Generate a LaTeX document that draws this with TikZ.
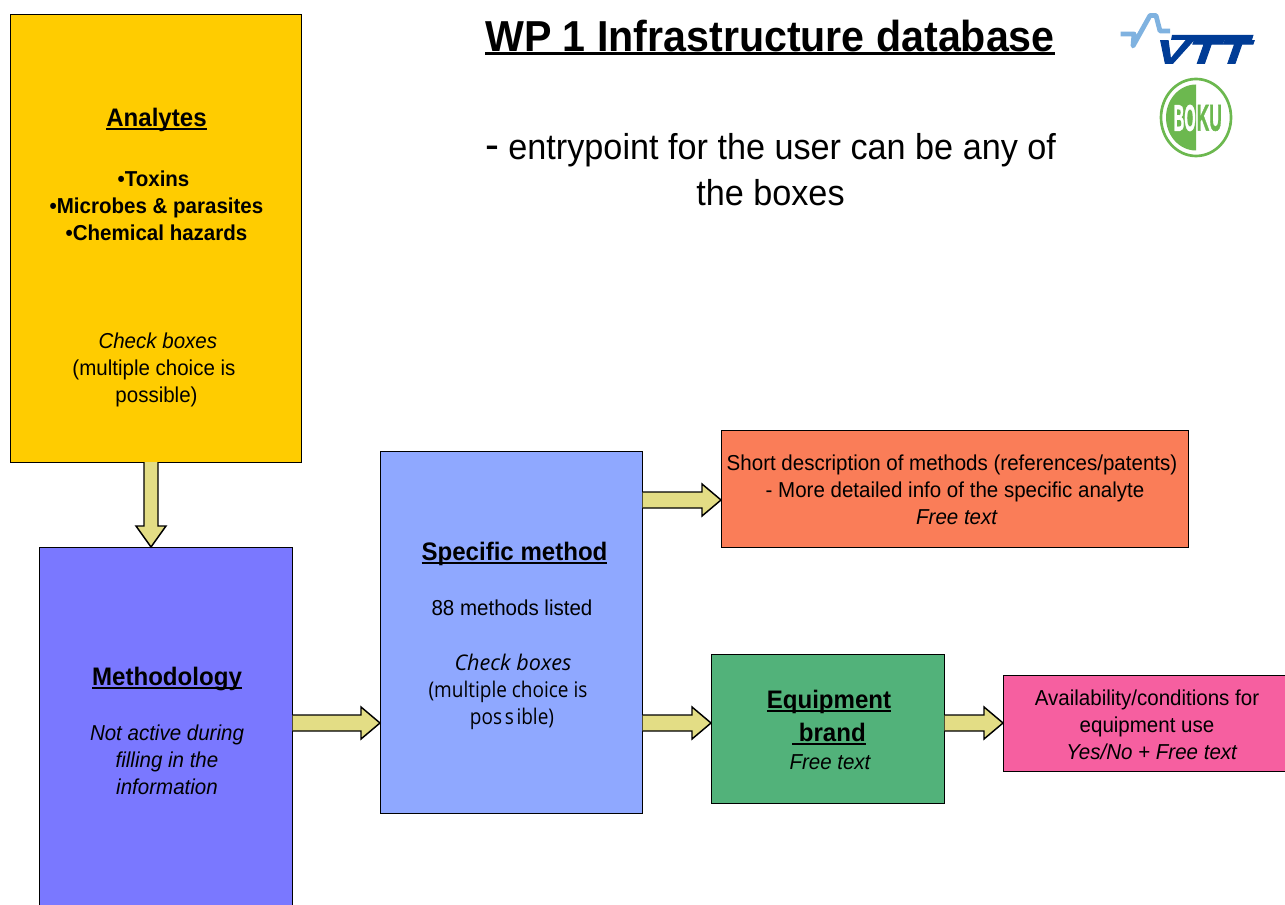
\documentclass[tikz,border=0pt]{standalone}
\usepackage{fontspec}
\setmainfont[FakeStretch=0.95]{Liberation Sans}
\newfontfamily\altfont[FakeStretch=0.88]{Open Sans}
\newfontfamily\altital[ItalicFont=*-Italic]{Open Sans}
\newfontfamily\vttfont[UprightFont=* Bold,FakeBold=3,FakeSlant=0.35,FakeStretch=1.5]{Liberation Sans}
\newfontfamily\bokufont[UprightFont=* Bold,FakeBold=1.5]{Liberation Sans}
\usetikzlibrary{calc}
\definecolor{cyellow}{HTML}{FFCC00}
\definecolor{cmethod}{HTML}{7A78FF}
\definecolor{cspecific}{HTML}{8FA8FF}
\definecolor{corange}{HTML}{FA7D58}
\definecolor{cgreen}{HTML}{52B27A}
\definecolor{cpink}{HTML}{F65FA0}
\definecolor{carrow}{HTML}{E3DD85}
\definecolor{vttblue}{HTML}{003C96}
\definecolor{vttlight}{HTML}{7FB2E0}
\definecolor{bokugreen}{HTML}{6CB84F}
\newcommand{\ulbox}[2][1.5pt]{\setbox0\hbox{#2}\rlap{\copy0}\rlap{\smash{\raisebox{-2.6pt}{\rule{\wd0}{#1}}}}\hbox to\wd0{\hfil}}
\newcommand{\headtxt}[1]{{\fontsize{19}{20.25}\selectfont\bfseries\ulbox{#1}}}
\newcommand{\boxnode}[6]{\node[flowbox,fill=#2,anchor=north west,minimum width={(#5-#3)*0.75},minimum height={(#6-#4)*0.75}] (#1) at (#3,#4) {};}
\newcommand{\harrow}[3]{\draw[blockarrow]
  (#1.east |- 0,#3-8) -- ($(#2.west |- 0,#3-8)+(-19,0)$) -- ($(#2.west |- 0,#3-16)+(-19,0)$)
  -- (#2.west |- 0,#3) -- ($(#2.west |- 0,#3+16)+(-19,0)$) -- ($(#2.west |- 0,#3+8)+(-19,0)$)
  -- (#1.east |- 0,#3+8);}
\tikzset{
  flowbox/.style={draw=black,line width=0.75pt,inner sep=0pt,outer sep=0pt},
  blockarrow/.style={draw=black,fill=carrow,line width=1.1pt,line join=miter},
  body/.style={align=center,inner sep=0pt,font=\fontsize{16.2}{20.25}\selectfont},
}
\begin{document}
\begin{tikzpicture}[x=0.75pt,y=-0.75pt]
\clip (0,0) rectangle (1285,905);
\fill[white] (0,0) rectangle (1285,905);
\boxnode{analytes}{cyellow}{10}{14.5}{301.5}{462}
\boxnode{methodology}{cmethod}{39}{547}{292.5}{920}
\boxnode{specific}{cspecific}{380}{451}{642.5}{813}
\boxnode{short}{corange}{721}{430.5}{1188}{547}
\boxnode{equipment}{cgreen}{711}{654}{944.5}{803}
\boxnode{avail}{cpink}{1003}{675}{1290}{771}
% connectors
\draw[blockarrow]
  (analytes.south -| 144,0) -- ($(methodology.north -| 144,0)+(0,-21)$) -- ($(methodology.north -| 136,0)+(0,-21)$)
  -- (methodology.north -| 151,0) -- ($(methodology.north -| 166,0)+(0,-21)$) -- ($(methodology.north -| 158,0)+(0,-21)$)
  -- (analytes.south -| 158,0);
\harrow{methodology}{specific}{723}
\harrow{specific}{short}{500}
\harrow{specific}{equipment}{723}
\harrow{equipment}{avail}{723}
% title
\node[inner sep=0pt,font=\fontsize{32.5}{38}\selectfont\bfseries] (title) at (770,36) {\ulbox[2pt]{WP 1 Infrastructure database}};
\node[inner sep=0pt,align=center,font=\fontsize{27}{34.5}\selectfont] (subtitle) at (770.5,170) {{\fontsize{33}{34.5}\selectfont -} entrypoint for the user can be any of\\the boxes};
% labels
\node[body] (analyteslabel) at (156.5,257.5) {\headtxt{Analytes}\\[24.75pt]
  \hspace*{-4.5pt}\textbf{•Toxins}\\ \textbf{•Microbes \& parasites}\\ \textbf{•Chemical hazards}\\[60.75pt]
  \hspace*{2pt}\textit{Check boxes}\\\hspace*{-3.75pt}(multiple choice is\\possible)};
\node[body] (methodlabel) at (167,731) {\headtxt{Methodology}\\[21.5pt]
  \textit{Not active during}\\\textit{filling in the}\\\textit{information}};
\node[body] (specificlabel) at (513,636) {\hspace*{2.25pt}\headtxt{Specific method}\\[21.5pt]
  \hspace*{-1.5pt}88 methods listed\\[21pt]
  {\altital\textit{Check boxes}}\\\hspace*{-7.5pt}{\altfont (multiple choice is}\\\hspace*{-1.5pt}{\altfont pos\kern2pt s\kern2pt ible)}};
\node[body] (shortlabel) at (952,489.5) {Short description of methods (references/patents)\\\hspace*{4.5pt}- More detailed info of the specific analyte\\\hspace*{7.5pt}\textit{Free text}};
\node[body] (equiplabel) at (829,730) {\headtxt{Equipment}\\[4pt]\headtxt{\ brand}\\[1pt]\hspace*{2pt}\textit{Free text}};
\node[body] (availlabel) at (1147,725) {Availability/conditions for\\equipment use\\\hspace*{7.5pt}\textit{Yes/No + Free text}};
% VTT logo
\draw[vttlight,line width=3.6pt,line join=round] (1120.5,34) -- (1134,34) -- (1133,46) -- (1150,15.5) -- (1156,15.5) -- (1160,31) -- (1170,31);
\fill[vttblue] (1172,35) -- (1253.5,35) -- (1252,40) -- (1171,40) -- cycle;
\node[inner sep=0pt,text=vttblue,font=\fontsize{25}{25}\vttfont] (vtt) at (1199.5,52) {VTT};
% BOKU logo
\draw[bokugreen,line width=2pt,fill=white] (1196,117.5) ellipse [x radius=35,y radius=38.5];
\fill[bokugreen] (1196,84.5) arc[start angle=-90,end angle=-270,x radius=30,y radius=33] -- cycle;
\node[inner sep=0pt,anchor=east,text=white,font=\bokufont] (bo) at (1196,118) {\scalebox{1.1}[2.8]{BO}};
\node[inner sep=0pt,anchor=west,text=bokugreen,font=\bokufont] (ku) at (1196.5,118) {\scalebox{1.3}[2.8]{KU}};
\end{tikzpicture}
\end{document}
